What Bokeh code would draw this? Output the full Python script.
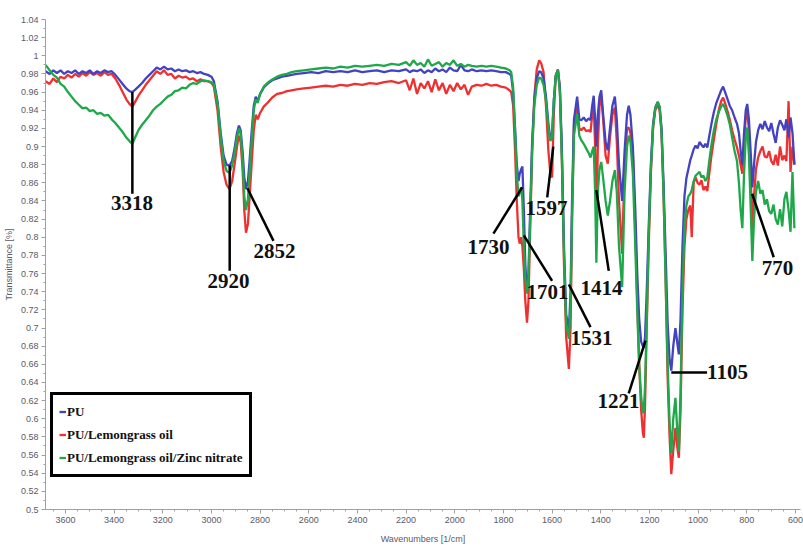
from bokeh.plotting import figure
from bokeh.models import (Range1d, FixedTicker, CustomJSTickFormatter,
                          ColumnDataSource, Legend, LegendItem)
from bokeh.core.properties import value
from bokeh.embed import file_html
from bokeh.resources import INLINE

# ---------------- data ----------------
SERIES = ["PU", "PU/Lemongrass oil", "PU/Lemongrass oil/Zinc nitrate"]
COLORS = ["#4343c2", "#ee3030", "#1fa84a"]

WAVENUMBER = [
    3682, 3665, 3650, 3635, 3620, 3605, 3590, 3575, 3560, 3545, 3530, 3515, 3500, 3485, 3470, 3455,
    3440, 3425, 3410, 3395, 3380, 3365, 3350, 3337, 3325, 3312, 3300, 3285, 3270, 3255, 3240, 3225,
    3210, 3195, 3180, 3165, 3150, 3135, 3120, 3105, 3090, 3075, 3060, 3045, 3030, 3015, 3000,
    2990, 2975, 2962, 2950, 2938, 2926, 2915, 2905, 2895, 2887, 2880, 2872, 2865, 2858, 2850, 2843,
    2835, 2826, 2818, 2810, 2800,
    2785, 2770, 2750, 2730, 2710, 2690, 2670, 2650, 2620, 2590, 2560, 2530, 2500, 2470, 2440, 2410,
    2380, 2350, 2320, 2290, 2260, 2230, 2200,
    2185, 2170, 2155, 2140, 2125, 2110, 2095, 2080, 2065, 2050, 2035, 2020, 2005, 1990, 1975, 1960, 1945,
    1930, 1910, 1890, 1870, 1850, 1830, 1810, 1790, 1775,
    1768, 1760, 1752, 1745, 1738, 1733, 1727, 1722, 1716, 1710, 1703, 1697, 1690, 1682, 1673, 1663,
    1653, 1645, 1635, 1625, 1615, 1607, 1600, 1593, 1585, 1576, 1568, 1560, 1551, 1542, 1531, 1524, 1518,
    1510, 1497, 1488, 1480, 1470, 1460, 1450, 1442, 1435, 1429, 1423, 1418, 1412, 1405, 1398, 1390,
    1380, 1371, 1362, 1352, 1342, 1334, 1325, 1312, 1302, 1292, 1285, 1278, 1268,
    1258, 1250, 1242, 1234, 1227, 1223, 1218, 1211, 1203, 1194, 1185, 1176, 1166, 1158, 1150, 1142,
    1133, 1125, 1117, 1110, 1102, 1093, 1086, 1079, 1072, 1064, 1056, 1048, 1040, 1032, 1026, 1018,
    1010, 1002, 994, 986, 978, 970, 962, 955, 945, 935, 925, 915, 905, 897, 889, 880,
    870, 860, 850, 840, 832, 825, 818, 811, 804, 798, 791, 784, 777, 770, 762, 753,
    744, 735, 726, 717, 708, 699, 690, 681, 672, 663, 654, 645, 637, 628, 620, 612, 604,
]

PU = [
    .983, .980, .984, .981, .984, .980, .983, .981, .984, .980, .983, .981, .984, .980, .983, .981,
    .984, .982, .983, .979, .974, .969, .964, .961, .960, .963, .966, .970, .975, .979, .983, .987,
    .985, .988, .985, .986, .983, .985, .983, .984, .982, .983, .981, .982, .980, .979, .977,
    .972, .950, .915, .890, .880, .879, .884, .898, .915, .923, .918, .895, .866, .853, .862, .885,
    .915, .945, .955, .950, .958,
    .965, .969, .973, .975, .977, .978, .979, .980, .981, .982, .981, .983, .982, .983, .982, .984,
    .982, .983, .984, .982, .984, .983, .985,
    .982, .984, .983, .985, .981, .984, .982, .986, .983, .985, .982, .987, .984, .983, .990, .984, .983,
    .985, .983, .984, .983, .984, .983, .982, .982, .980,
    .978, .960, .920, .880, .862, .870, .875, .878, .830, .770, .740, .760, .830, .905, .950, .975,
    .983, .982, .975, .955, .925, .908, .915, .950, .978, .984, .965, .900, .790, .715, .697, .740, .840,
    .930, .955, .930, .929, .932, .928, .931, .929, .945, .956, .930, .900, .935, .955, .962, .935,
    .905, .896, .920, .945, .955, .930, .880, .840, .895, .935, .945, .935, .900,
    .830, .760, .710, .685, .680, .678, .690, .740, .810, .880, .925, .943, .949, .944, .920, .860,
    .780, .705, .665, .653, .680, .700, .685, .671, .710, .790, .845, .865, .875, .885, .890, .897,
    .901, .898, .905, .902, .899, .903, .899, .910, .925, .938, .948, .955, .962, .966, .960, .953,
    .945, .940, .932, .925, .915, .895, .880, .915, .940, .947, .930, .895, .855, .880, .905, .918,
    .925, .919, .928, .921, .917, .926, .914, .904, .921, .929, .924, .918, .930, .910, .932, .915, .880,
]

PU_LG = [
    .972, .969, .975, .971, .977, .975, .979, .976, .980, .977, .981, .978, .982, .979, .981, .978,
    .982, .979, .980, .975, .968, .960, .952, .947, .944, .950, .956, .962, .968, .973, .978, .983,
    .980, .984, .979, .980, .975, .978, .976, .977, .974, .975, .972, .974, .972, .972, .970,
    .966, .940, .900, .872, .858, .853, .862, .880, .900, .912, .905, .875, .830, .805, .815, .845,
    .880, .918, .935, .930, .937,
    .944, .948, .954, .958, .959, .961, .962, .963, .964, .965, .966, .967, .966, .968, .967, .969,
    .968, .970, .969, .971, .972, .970, .973,
    .962, .975, .958, .970, .964, .972, .960, .974, .962, .970, .958, .968, .961, .970, .963, .968, .957,
    .966, .968, .967, .969, .967, .968, .966, .965, .962,
    .960, .945, .895, .840, .800, .793, .800, .790, .765, .730, .706, .730, .810, .895, .955, .985,
    .995, .992, .982, .945, .895, .870, .866, .935, .978, .985, .965, .890, .770, .690, .655, .700, .820,
    .925, .943, .920, .918, .921, .917, .918, .916, .935, .947, .900, .811, .900, .945, .956, .930,
    .890, .881, .910, .935, .943, .905, .840, .782, .880, .920, .921, .915, .890,
    .810, .730, .660, .610, .585, .579, .615, .700, .790, .870, .920, .940, .946, .940, .915, .850,
    .750, .645, .580, .539, .565, .590, .570, .557, .610, .720, .790, .820, .830, .835, .800, .860,
    .866, .860, .858, .863, .852, .856, .851, .868, .890, .908, .925, .940, .950, .954, .948, .940,
    .930, .918, .908, .899, .890, .880, .870, .905, .932, .940, .918, .870, .810, .845, .875, .888,
    .895, .900, .889, .888, .895, .884, .880, .891, .879, .900, .885, .890, .884, .950, .872, .900, .880,
]

PU_LG_ZN = [
    .990, .984, .979, .976, .969, .966, .960, .955, .950, .946, .942, .943, .939, .940, .936, .937,
    .934, .935, .930, .926, .921, .916, .910, .906, .903, .911, .918, .924, .929, .934, .940, .944,
    .947, .951, .955, .957, .961, .962, .965, .964, .968, .970, .969, .972, .973, .972, .971,
    .968, .948, .910, .885, .873, .871, .879, .893, .910, .920, .914, .885, .845, .830, .842, .872,
    .905, .940, .952, .948, .958,
    .966, .970, .974, .977, .979, .980, .982, .983, .984, .985, .986, .987, .986, .988, .987, .989,
    .988, .989, .990, .989, .991, .990, .993,
    .989, .995, .990, .992, .988, .996, .989, .991, .993, .988, .992, .990, .995, .989, .991, .988, .990,
    .989, .988, .989, .988, .989, .988, .987, .986, .984,
    .982, .965, .915, .870, .845, .850, .855, .840, .790, .755, .738, .755, .820, .895, .945, .968,
    .976, .975, .968, .950, .920, .906, .910, .950, .978, .984, .960, .890, .780, .705, .688, .725, .820,
    .912, .936, .912, .907, .903, .898, .893, .888, .895, .900, .850, .772, .850, .875, .883, .865,
    .840, .824, .840, .862, .874, .850, .790, .745, .850, .900, .912, .905, .870,
    .790, .720, .660, .625, .606, .610, .635, .710, .800, .875, .922, .942, .949, .944, .915, .850,
    .750, .660, .595, .562, .600, .623, .590, .564, .630, .740, .810, .835, .845, .848, .852, .862,
    .868, .870, .872, .866, .868, .862, .866, .882, .902, .918, .930, .938, .944, .947, .942, .935,
    .925, .910, .895, .884, .860, .830, .810, .870, .910, .921, .890, .835, .774, .820, .850, .862,
    .848, .852, .836, .842, .829, .826, .836, .820, .814, .831, .812, .842, .850, .830, .806, .872, .810,
]

X_TICKS = [600, 800, 1000, 1200, 1400, 1600, 1800, 2000, 2200, 2400, 2600, 2800, 3000, 3200, 3400, 3600]
Y_TICKS = [0.5, 0.52, 0.54, 0.56, 0.58, 0.6, 0.62, 0.64, 0.66, 0.68, 0.7, 0.72, 0.74, 0.76,
           0.78, 0.8, 0.82, 0.84, 0.86, 0.88, 0.9, 0.92, 0.94, 0.96, 0.98, 1.0, 1.02, 1.04]

# peak annotations: label, leader line start (on curve) and end (near label)
PEAK_LABELS = ["3318", "2920", "2852", "1730", "1701", "1597", "1531", "1414", "1221", "770"]
LEAD_X0 = [3325, 2925, 2852, 1723, 1716, 1595, 1531, 1418, 1216, 778]
LEAD_Y0 = [0.960, 0.879, 0.854, 0.855, 0.802, 0.900, 0.748, 0.852, 0.686, 0.848]
LEAD_X1 = [3325, 2925, 2745, 1841, 1600, 1620, 1442, 1367, 1285, 689]
LEAD_Y1 = [0.848, 0.763, 0.796, 0.804, 0.752, 0.844, 0.701, 0.763, 0.628, 0.778]
TEXT_X = [3327, 2930, 2741, 1861, 1619, 1623, 1438, 1397, 1327, 674]
TEXT_Y = [0.846, 0.760, 0.793, 0.797, 0.747, 0.840, 0.697, 0.752, 0.627, 0.774]
SIDE_LABEL = "1105"
SIDE_X0, SIDE_X1, SIDE_Y = 1110, 963, 0.651

# ---------------- figure ----------------
p = figure(width=803, height=548, output_backend="svg", toolbar_location=None,
           x_range=Range1d(3682, 579), y_range=Range1d(0.5, 1.04),
           min_border_left=45, min_border_right=3, min_border_top=19, min_border_bottom=39,
           background_fill_color="white", border_fill_color="white")
p.outline_line_color = None
p.xgrid.visible = False
p.ygrid.visible = False

src = ColumnDataSource(dict(wn=WAVENUMBER, pu=PU, lg=PU_LG, zn=PU_LG_ZN))
r_lg = p.line("wn", "lg", source=src, line_color=COLORS[1], line_width=2.3)
r_pu = p.line("wn", "pu", source=src, line_color=COLORS[0], line_width=2.3)
r_zn = p.line("wn", "zn", source=src, line_color=COLORS[2], line_width=2.3)

# annotations
ann = ColumnDataSource(dict(x0=LEAD_X0, y0=LEAD_Y0, x1=LEAD_X1, y1=LEAD_Y1,
                            tx=TEXT_X, ty=TEXT_Y, label=PEAK_LABELS))
p.segment(x0="x0", y0="y0", x1="x1", y1="y1", source=ann, line_color="black", line_width=2.5)
p.text(x="tx", y="ty", text="label", source=ann, text_font=value("Liberation Serif"),
       text_font_style="bold", text_font_size="21px", text_color="#111111",
       text_align="center", text_baseline="top")
side = ColumnDataSource(dict(x0=[SIDE_X0], x1=[SIDE_X1], y=[SIDE_Y], label=[SIDE_LABEL]))
p.segment(x0="x0", y0="y", x1="x1", y1="y", source=side, line_color="black", line_width=2.5)
p.text(x="x1", y="y", text="label", source=side, text_font=value("Liberation Serif"),
       text_font_style="bold", text_font_size="21px", text_color="#111111",
       text_align="left", text_baseline="middle")

# axes
axis_col = "#a0a0a0"
lab_col = "#5a5a6a"
for ax in (p.xaxis[0], p.yaxis[0]):
    ax.axis_line_color = axis_col
    ax.major_tick_line_color = axis_col
    ax.minor_tick_line_color = axis_col
    ax.major_tick_out = 4
    ax.major_tick_in = 0
    ax.minor_tick_out = 2
    ax.minor_tick_in = 0
    ax.major_label_text_font = "Liberation Sans"
    ax.major_label_text_font_size = "9px"
    ax.major_label_text_color = lab_col
    ax.major_label_standoff = 3
    ax.axis_label_text_font = "Liberation Sans"
    ax.axis_label_text_font_size = "9px"
    ax.axis_label_text_font_style = "normal"
    ax.axis_label_text_color = lab_col

p.xaxis.ticker = FixedTicker(ticks=X_TICKS, minor_ticks=list(range(600, 3701, 50)))
p.yaxis.ticker = FixedTicker(ticks=Y_TICKS,
                             minor_ticks=[round(0.5 + 0.01 * i, 2) for i in range(55)])
p.yaxis.formatter = CustomJSTickFormatter(
    code="return tick.toFixed(2).replace(/0+$/, '').replace(/\\.$/, '');")
p.xaxis.axis_label = "Wavenumbers [1/cm]"
p.yaxis.axis_label = "Transmittance [%]"
p.xaxis.axis_label_standoff = 8
p.yaxis.axis_label_standoff = 4

# legend
legend = Legend(items=[LegendItem(label=SERIES[0], renderers=[r_pu]),
                       LegendItem(label=SERIES[1], renderers=[r_lg]),
                       LegendItem(label=SERIES[2], renderers=[r_zn])],
                location=(5, 32), margin=0, padding=6, spacing=2,
                glyph_width=7, glyph_height=21, label_height=21, label_standoff=1,
                label_text_font="Liberation Serif", label_text_font_style="bold",
                label_text_font_size="13px", label_text_color="#111111",
                border_line_color="black", border_line_width=3, border_line_alpha=1,
                background_fill_color="white", background_fill_alpha=1)
p.add_layout(legend)

open("out.html", "w").write(file_html(p, INLINE))
